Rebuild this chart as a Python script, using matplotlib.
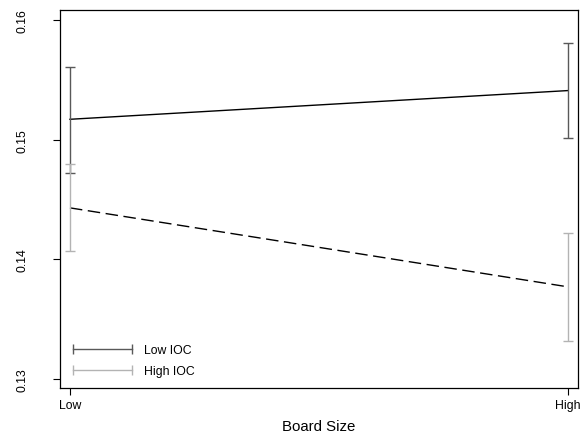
import matplotlib
matplotlib.use('Agg')
from matplotlib import pyplot as plt
from matplotlib.lines import Line2D

plt.rcParams['font.family'] = ['Liberation Sans', 'DejaVu Sans']

board_levels = ['Low', 'High']
low_ioc_mean = [0.1517, 0.1541]
low_ioc_upper = [0.1561, 0.1581]
low_ioc_lower = [0.1472, 0.1501]
high_ioc_mean = [0.1443, 0.1377]
high_ioc_upper = [0.1480, 0.1422]
high_ioc_lower = [0.1407, 0.1332]
y_ticks = [0.13, 0.14, 0.15, 0.16]
series_names = ['Low IOC', 'High IOC']


def main():
    fig = plt.figure(figsize=(5.84, 4.39), dpi=100)
    ax = fig.add_axes([0.1027, 0.1139, 0.887, 0.861])
    x = list(range(len(board_levels)))
    dark = '#595959'
    light = '#b3b3b3'

    ax.plot(x, low_ioc_mean, color='black', lw=1.0)
    ax.plot(x, high_ioc_mean, color='black', lw=1.0, dashes=(9, 4))

    for mean, up, lo, col in [(low_ioc_mean, low_ioc_upper, low_ioc_lower, dark),
                              (high_ioc_mean, high_ioc_upper, high_ioc_lower, light)]:
        err = [[m - l for m, l in zip(mean, lo)], [u - m for m, u in zip(mean, up)]]
        ax.errorbar(x, mean, yerr=err, fmt='none', ecolor=col, elinewidth=1.0,
                    capsize=3.3, capthick=1.0)

    ax.set_xlim(-0.02, 1.02)
    ax.set_ylim(0.12925, 0.16083)
    ax.set_xticks(x)
    ax.set_xticklabels(board_levels, fontsize=8.8)
    ax.set_yticks(y_ticks)
    ax.set_yticklabels([f'{t:.2f}' for t in y_ticks], rotation=90, va='center',
                       fontsize=8.8)
    ax.tick_params(axis='y', length=5, width=0.8, pad=17.5)
    ax.tick_params(axis='x', length=5, width=0.8, pad=3)
    ax.set_xlabel('Board Size', fontsize=10.8, labelpad=6)
    for s in ax.spines.values():
        s.set_linewidth(0.9)

    handles = [Line2D([], [], color=dark, lw=1.0, marker='|', markersize=7,
                      markeredgewidth=1.0),
               Line2D([], [], color=light, lw=1.0, marker='|', markersize=7,
                      markeredgewidth=1.0)]
    ax.legend(handles, series_names, loc='lower left', bbox_to_anchor=(0.019, 0.028),
              frameon=False, numpoints=2, handlelength=5.35, handletextpad=0.7,
              labelspacing=0.78, borderpad=0, borderaxespad=0, fontsize=8.8)

    fig.savefig('out.png', dpi=100)


if __name__ == '__main__':
    main()
